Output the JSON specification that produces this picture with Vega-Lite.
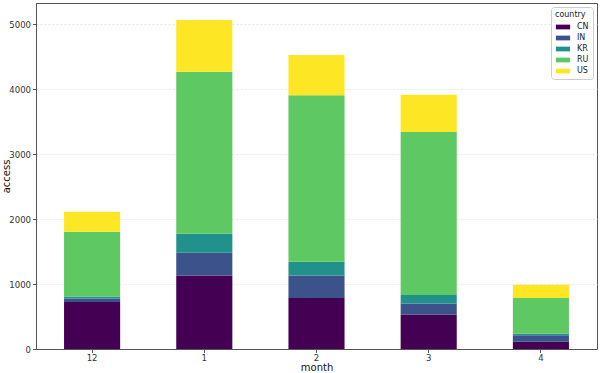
{
  "$schema": "https://vega.github.io/schema/vega-lite/v6.json",
  "width": 561,
  "height": 346,
  "autosize": {"type": "none"},
  "padding": {"left": 36, "top": 3, "right": 3, "bottom": 24},
  "background": "white",
  "config": {
    "font": "DejaVu Sans",
    "view": {"stroke": "#555555", "strokeWidth": 1},
    "axis": {"labelFont": "DejaVu Sans", "titleFont": "DejaVu Sans", "labelFontSize": 8.5, "titleFontSize": 10, "labelColor": "#333", "titleColor": "#111", "titleFontWeight": "normal", "domainColor": "#555", "tickColor": "#555", "tickSize": 3.5, "labelPadding": 2}
  },
  "data": {
    "values": [
      {"month": "12", "mo": 0, "country": "CN", "ci": 0, "access": 723},
      {"month": "12", "mo": 0, "country": "IN", "ci": 1, "access": 55},
      {"month": "12", "mo": 0, "country": "KR", "ci": 2, "access": 31},
      {"month": "12", "mo": 0, "country": "RU", "ci": 3, "access": 996},
      {"month": "12", "mo": 0, "country": "US", "ci": 4, "access": 307},
      {"month": "1", "mo": 1, "country": "CN", "ci": 0, "access": 1132},
      {"month": "1", "mo": 1, "country": "IN", "ci": 1, "access": 350},
      {"month": "1", "mo": 1, "country": "KR", "ci": 2, "access": 292},
      {"month": "1", "mo": 1, "country": "RU", "ci": 3, "access": 2497},
      {"month": "1", "mo": 1, "country": "US", "ci": 4, "access": 795},
      {"month": "2", "mo": 2, "country": "CN", "ci": 0, "access": 785},
      {"month": "2", "mo": 2, "country": "IN", "ci": 1, "access": 347},
      {"month": "2", "mo": 2, "country": "KR", "ci": 2, "access": 211},
      {"month": "2", "mo": 2, "country": "RU", "ci": 3, "access": 2565},
      {"month": "2", "mo": 2, "country": "US", "ci": 4, "access": 620},
      {"month": "3", "mo": 3, "country": "CN", "ci": 0, "access": 528},
      {"month": "3", "mo": 3, "country": "IN", "ci": 1, "access": 174},
      {"month": "3", "mo": 3, "country": "KR", "ci": 2, "access": 129},
      {"month": "3", "mo": 3, "country": "RU", "ci": 3, "access": 2512},
      {"month": "3", "mo": 3, "country": "US", "ci": 4, "access": 574},
      {"month": "4", "mo": 4, "country": "CN", "ci": 0, "access": 112},
      {"month": "4", "mo": 4, "country": "IN", "ci": 1, "access": 98},
      {"month": "4", "mo": 4, "country": "KR", "ci": 2, "access": 25},
      {"month": "4", "mo": 4, "country": "RU", "ci": 3, "access": 550},
      {"month": "4", "mo": 4, "country": "US", "ci": 4, "access": 204}
    ]
  },
  "mark": {"type": "bar", "opacity": 1},
  "encoding": {
    "x": {
      "field": "month", "type": "ordinal",
      "sort": {"field": "mo", "op": "min"},
      "scale": {"paddingInner": 0.5, "paddingOuter": 0.25},
      "axis": {"labelAngle": 0, "labelPadding": 0.5, "title": "month", "titleBaseline": "alphabetic", "titleY": 21, "grid": false}
    },
    "y": {
      "field": "access", "type": "quantitative", "stack": "zero",
      "scale": {"domain": [0, 5328], "nice": false},
      "axis": {"values": [0, 1000, 2000, 3000, 4000, 5000], "format": "d", "title": "access", "titleX": -25, "grid": true, "gridColor": "#dddddd", "gridDash": [2, 2], "gridWidth": 0.8}
    },
    "color": {
      "field": "country", "type": "nominal",
      "scale": {"domain": ["CN", "IN", "KR", "RU", "US"], "range": ["#440154", "#3b528b", "#21918c", "#5ec962", "#fde725"]},
      "legend": {
        "orient": "top-right", "offset": 4, "title": "country",
        "titleFontSize": 8, "titleFontWeight": "normal", "labelFontSize": 8,
        "titleColor": "#222", "labelColor": "#222",
        "strokeColor": "#cccccc", "fillColor": "white", "padding": 4, "cornerRadius": 3,
        "symbolType": "M-1.5,-0.5H1.5V0.5H-1.5Z", "symbolSize": 90, "symbolStrokeWidth": 0,
        "rowPadding": 2, "titlePadding": 3, "symbolOffset": 3, "labelOffset": 9
      }
    },
    "order": {"field": "ci", "type": "quantitative"}
  }
}
